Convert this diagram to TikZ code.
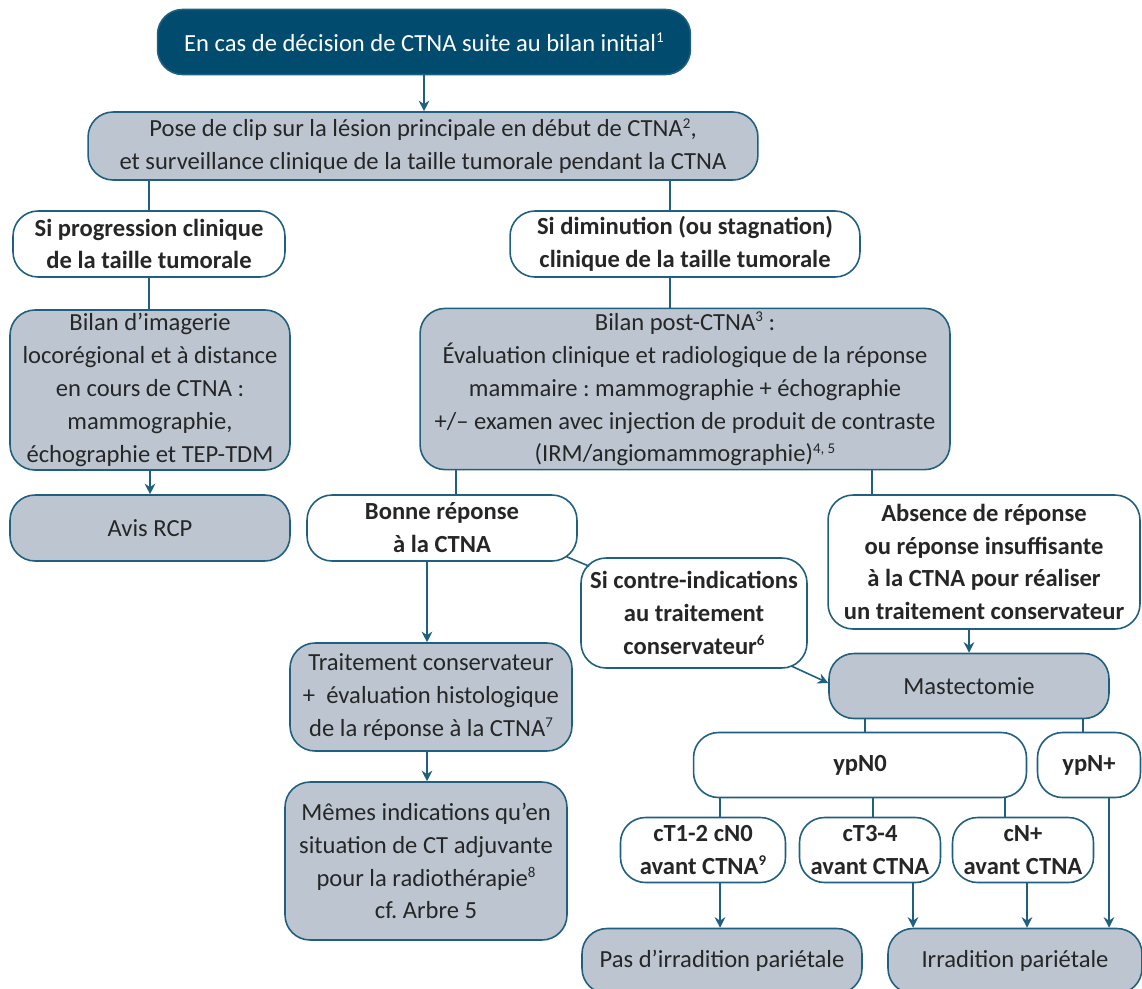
\documentclass[tikz,border=0pt]{standalone}
\usepackage{fontspec}
\setmainfont{Carlito}
\usetikzlibrary{arrows.meta,calc}
\definecolor{ctnablue}{HTML}{004B6E}
\definecolor{ctnagray}{HTML}{BDC6D0}
\definecolor{ctnaline}{HTML}{1F5F80}
\newcommand{\ctnasize}{\fontsize{14}{18.7}\selectfont}
\newcommand{\ctnasup}[1]{\raisebox{0.75ex}{\fontsize{8.5}{8.5}\selectfont #1}}
\frenchspacing

\begin{document}
\begin{tikzpicture}[x=0.02cm, y=-0.02cm, color=ctnaline, line width=0.9pt, >={Stealth[length=6pt,width=6pt]},
        nodes={draw=ctnaline, rounded corners=0.5cm, align=center, inner sep=2pt, text=black!85, font=\ctnasize},
        box/.style={fill=ctnagray},
        choice/.style={fill=white, font=\ctnasize\bfseries}]
        \useasboundingbox (0,0) rectangle (1142,988);
        \clip (0,0) rectangle (1142,988);
        \node[fill=ctnablue, text=white, minimum width=10.66cm, minimum height=1.3cm] (start) at (424,42) {En cas de décision de CTNA suite au bilan initial\ctnasup{1}};
        \node[box, minimum width=13.4cm, minimum height=1.36cm] (clip) at (423,146) {Pose de clip sur la lésion principale en début de CTNA\ctnasup{2},\\ et surveillance clinique de la taille tumorale pendant la CTNA};
        \draw[->] (start.south) -- (start.south |- clip.north);

        \node[choice, minimum width=5.44cm, minimum height=1.32cm] (prog) at (149,244) {Si progression clinique\\ de la taille tumorale};
        \node[choice, minimum width=7cm, minimum height=1.32cm] (dim) at (685,244) {Si diminution (ou stagnation)\\ clinique de la taille tumorale};
        \draw (clip.south -| prog.north) -- (prog.north);
        \draw (clip.south -| 670,0) -- (dim.north -| 670,0);

        \node[box, minimum width=5.6cm, minimum height=3.14cm] (imag) at (150,390) {Bilan d’imagerie\\ locorégional et à distance\\ en cours de CTNA :\\ mammographie,\\ échographie et TEP-TDM};
        \node[box, minimum width=10.6cm, minimum height=3.16cm] (post) at (685,389) {Bilan post-CTNA\ctnasup{3} :\\ Évaluation clinique et radiologique de la réponse\\ mammaire : mammographie + échographie\\ +/– examen avec injection de produit de contraste\\ (IRM/angiomammographie)\ctnasup{4, 5}};
        \draw (prog.south) -- (prog.south |- imag.north);
        \draw (dim.south -| 670,0) -- (post.north -| 670,0);

        \node[box, minimum width=5.6cm, minimum height=1.32cm] (rcp) at (150,528) {Avis RCP};
        \node[choice, minimum width=5.4cm, minimum height=1.32cm] (bonne) at (442,528) {Bonne réponse\\ à la CTNA};
        \node[choice, minimum width=6.24cm, minimum height=2.68cm] (absence) at (984,562) {Absence de réponse\\ ou réponse insuffisante\\ à la CTNA pour réaliser\\ un traitement conservateur};
        \node[choice, minimum width=4.52cm, minimum height=2.2cm] (contre) at (694,613) {Si contre-indications\\ au traitement\\ conservateur\ctnasup{6}};
        \draw[->] (imag.south) -- (imag.south |- rcp.north);
        \draw (post.south -| 456,0) -- (bonne.north -| 456,0);
        \draw (post.south -| 872,0) -- (absence.north -| 872,0);
        \draw ($(bonne.south east)+(-11,-5)$) -- ($(contre.north west)+(9,9)$);

        \node[box, minimum width=5.64cm, minimum height=2.16cm] (trait) at (431,697) {Traitement conservateur\\ +\ \ évaluation histologique\\ de la réponse à la CTNA\ctnasup{7}};
        \node[box, minimum width=5.6cm, minimum height=1.3cm] (mast) at (969,686) {Mastectomie};
        \draw[->] (bonne.south -| 427,0) -- (trait.north -| 427,0);
        \draw[->] (absence.south -| mast.north) -- (mast.north);
        \draw[->] ($(contre.south east)+(-17,-3)$) -- ($(mast.west)+(0,-3)$);

        \node[choice, minimum width=6.66cm, minimum height=1.3cm] (ypno) at (860,765) {ypN0};
        \node[choice, minimum width=2.06cm, minimum height=1.3cm] (yppl) at (1089,765) {ypN+};
        \draw (mast.south -| 865,0) -- (ypno.north -| 865,0);
        \draw (mast.south -| 1083,0) -- (yppl.north -| 1083,0);

        \node[choice, minimum width=3.3cm, minimum height=1.3cm] (cta) at (703,850) {cT1-2 cN0\\ avant CTNA\ctnasup{9}};
        \node[choice, minimum width=2.82cm, minimum height=1.3cm] (ctb) at (870,850) {cT3-4\\ avant CTNA};
        \node[choice, minimum width=2.82cm, minimum height=1.3cm] (cnp) at (1023,850) {cN+\\ avant CTNA};
        \draw (ypno.south -| 720,0) -- (cta.north -| 720,0);
        \draw (ypno.south -| 873,0) -- (ctb.north -| 873,0);
        \draw (ypno.south -| 1005,0) -- (cnp.north -| 1005,0);

        \node[box, minimum width=5.64cm, minimum height=3.16cm] (memes) at (426,861) {Mêmes indications qu’en\\ situation de CT adjuvante\\ pour la radiothérapie\ctnasup{8}\\ cf. Arbre 5};
        \draw[->] (trait.south -| 427,0) -- (memes.north -| 427,0);

        \node[box, minimum width=5.6cm, minimum height=1.3cm] (pas) at (722,961) {Pas d’irradition pariétale};
        \node[box, minimum width=5.08cm, minimum height=1.3cm] (irr) at (1015,961) {Irradition pariétale};
        \draw[->] (cta.south -| 720,0) -- (pas.north -| 720,0);
        \draw[->] (ctb.south -| 913,0) -- (irr.north -| 913,0);
        \draw[->] (cnp.south -| 1027,0) -- (irr.north -| 1027,0);
        \draw[->] (yppl.south -| 1109,0) -- (irr.north -| 1109,0);
    \end{tikzpicture}
\end{document}
